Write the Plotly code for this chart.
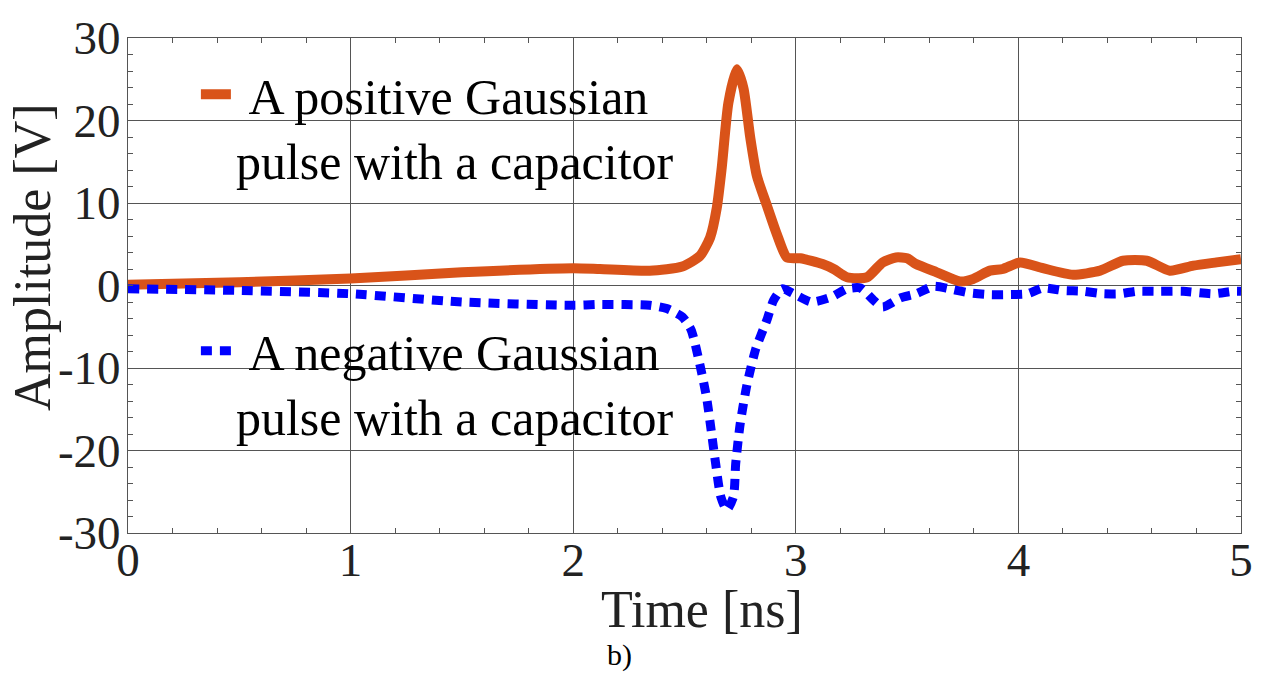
import plotly.graph_objects as go

# ---------------- data ----------------
t_pos = [0, 0.5, 1.0, 1.5, 2.0, 2.12, 2.344, 2.49, 2.57, 2.615, 2.645, 2.667, 2.697,
         2.735, 2.765, 2.795, 2.825, 2.87, 2.915, 2.96, 3.02, 3.12, 3.17, 3.23, 3.32,
         3.39, 3.45, 3.5, 3.54, 3.633, 3.738, 3.797, 3.872, 3.93, 4.007, 4.11, 4.245,
         4.367, 4.47, 4.577, 4.68, 4.786, 4.89, 5.0]
v_pos = [0.1, 0.4, 0.85, 1.6, 2.1, 2.0, 1.8, 2.3, 3.6, 5.8, 9.4, 14.2, 22.1,
         26.2, 23.9, 18.0, 13.3, 9.7, 6.2, 3.4, 3.3, 2.6, 2.0, 1.0, 1.0,
         2.8, 3.4, 3.3, 2.6, 1.6, 0.5, 0.8, 1.8, 2.0, 2.8, 2.1, 1.3,
         1.8, 3.0, 3.0, 1.8, 2.4, 2.8, 3.2]

t_neg = [0, 0.5, 1.0, 1.5, 2.0, 2.12, 2.344, 2.42, 2.49, 2.53, 2.57, 2.6, 2.62, 2.64,
         2.663, 2.69, 2.72, 2.73, 2.75, 2.78, 2.82, 2.87, 2.9, 2.94, 2.99, 3.07, 3.16,
         3.23, 3.29, 3.35, 3.39, 3.47, 3.54, 3.62, 3.69, 3.78, 3.87, 3.95, 4.04, 4.11,
         4.2, 4.29, 4.38, 4.456, 4.53, 4.636, 4.74, 4.875, 4.965, 5.0]
v_neg = [-0.4, -0.6, -1.0, -2.0, -2.4, -2.3, -2.4, -2.8, -3.8, -5.4, -9.7, -13.7, -17.6, -21.6,
         -25.6, -27.2, -25.6, -21.6, -16.8, -12.1, -7.7, -4.2, -1.8, -0.4, -1.0, -2.0, -1.4,
         -0.4, -0.3, -1.8, -2.6, -1.5, -1.0, -0.1, -0.4, -0.9, -1.1, -1.1, -1.0, -0.3,
         -0.6, -0.7, -1.0, -1.0, -0.7, -0.7, -0.7, -1.0, -0.7, -0.7]

x_ticks = [0, 1, 2, 3, 4, 5]
x_ticktext = ["0", "1", "2", "3", "4", "5"]
y_ticks = [-30, -20, -10, 0, 10, 20, 30]
y_ticktext = ["-30", "-20", "-10", "0", "10", "20", "30"]

name_pos = "\u00a0A positive Gaussian<br>pulse with a capacitor"
name_neg = "\u00a0A negative Gaussian<br>pulse with a capacitor"

SERIF = "Liberation Serif, Times New Roman, serif"

fig = go.Figure()
fig.add_trace(go.Scatter(
    x=t_pos, y=v_pos, mode="lines", name=name_pos,
    line=dict(color="#D95319", width=10, shape="spline", smoothing=0.6),
    legend="legend"))
fig.add_trace(go.Scatter(
    x=t_neg, y=v_neg, mode="lines", name=name_neg,
    line=dict(color="#0000FF", width=9, dash="11px,8px", shape="spline", smoothing=0.6),
    legend="legend2"))

axis_common = dict(
    showline=True, linecolor="#555555", linewidth=1, mirror="ticks",
    ticks="inside", ticklen=5, tickcolor="#555555",
    showgrid=True, gridcolor="#555555", gridwidth=1,
    zeroline=False,
    tickfont=dict(family=SERIF, size=47, color="#222222"),
)

fig.update_xaxes(range=[0, 5], tickmode="array", tickvals=x_ticks, ticktext=x_ticktext,
                 ticklabelstandoff=-14,
                 minor=dict(dtick=0.2, ticks="inside", ticklen=5, tickcolor="#555555", showgrid=False),
                 **axis_common)
fig.update_yaxes(range=[-30, 30], tickmode="array", tickvals=y_ticks, ticktext=y_ticktext,
                 ticklabelstandoff=-3,
                 minor=dict(dtick=2, ticks="inside", ticklen=5, tickcolor="#555555", showgrid=False),
                 **axis_common)

legend_common = dict(
    font=dict(family=SERIF, size=50, color="black"),
    bgcolor="rgba(0,0,0,0)", borderwidth=0, xanchor="left", yanchor="top",
    valign="top", itemwidth=30,
)

fig.update_layout(
    width=1266, height=676,
    margin=dict(l=128, r=25, t=29, b=143),
    paper_bgcolor="white", plot_bgcolor="white",
    showlegend=True,
    legend=dict(x=0.061, y=0.965, **legend_common),
    legend2=dict(x=0.061, y=0.447, **legend_common),
    annotations=[
        dict(text="Amplitude [V]", xref="paper", yref="paper", x=-0.0863, y=0.5575,
             xanchor="center", yanchor="middle", textangle=-90, showarrow=False,
             font=dict(family=SERIF, size=52, color="#222222")),
        dict(text="Time [ns]", xref="paper", yref="paper", x=0.5157, y=-0.155,
             xanchor="center", yanchor="middle", showarrow=False, borderpad=0,
             font=dict(family=SERIF, size=52, color="#222222")),
        dict(text="b)", xref="paper", yref="paper", x=0.442, y=-0.2835,
             xanchor="center", yanchor="bottom", showarrow=False, borderpad=0,
             font=dict(family=SERIF, size=30, color="black")),
    ],
)

fig.write_html("out.html")
